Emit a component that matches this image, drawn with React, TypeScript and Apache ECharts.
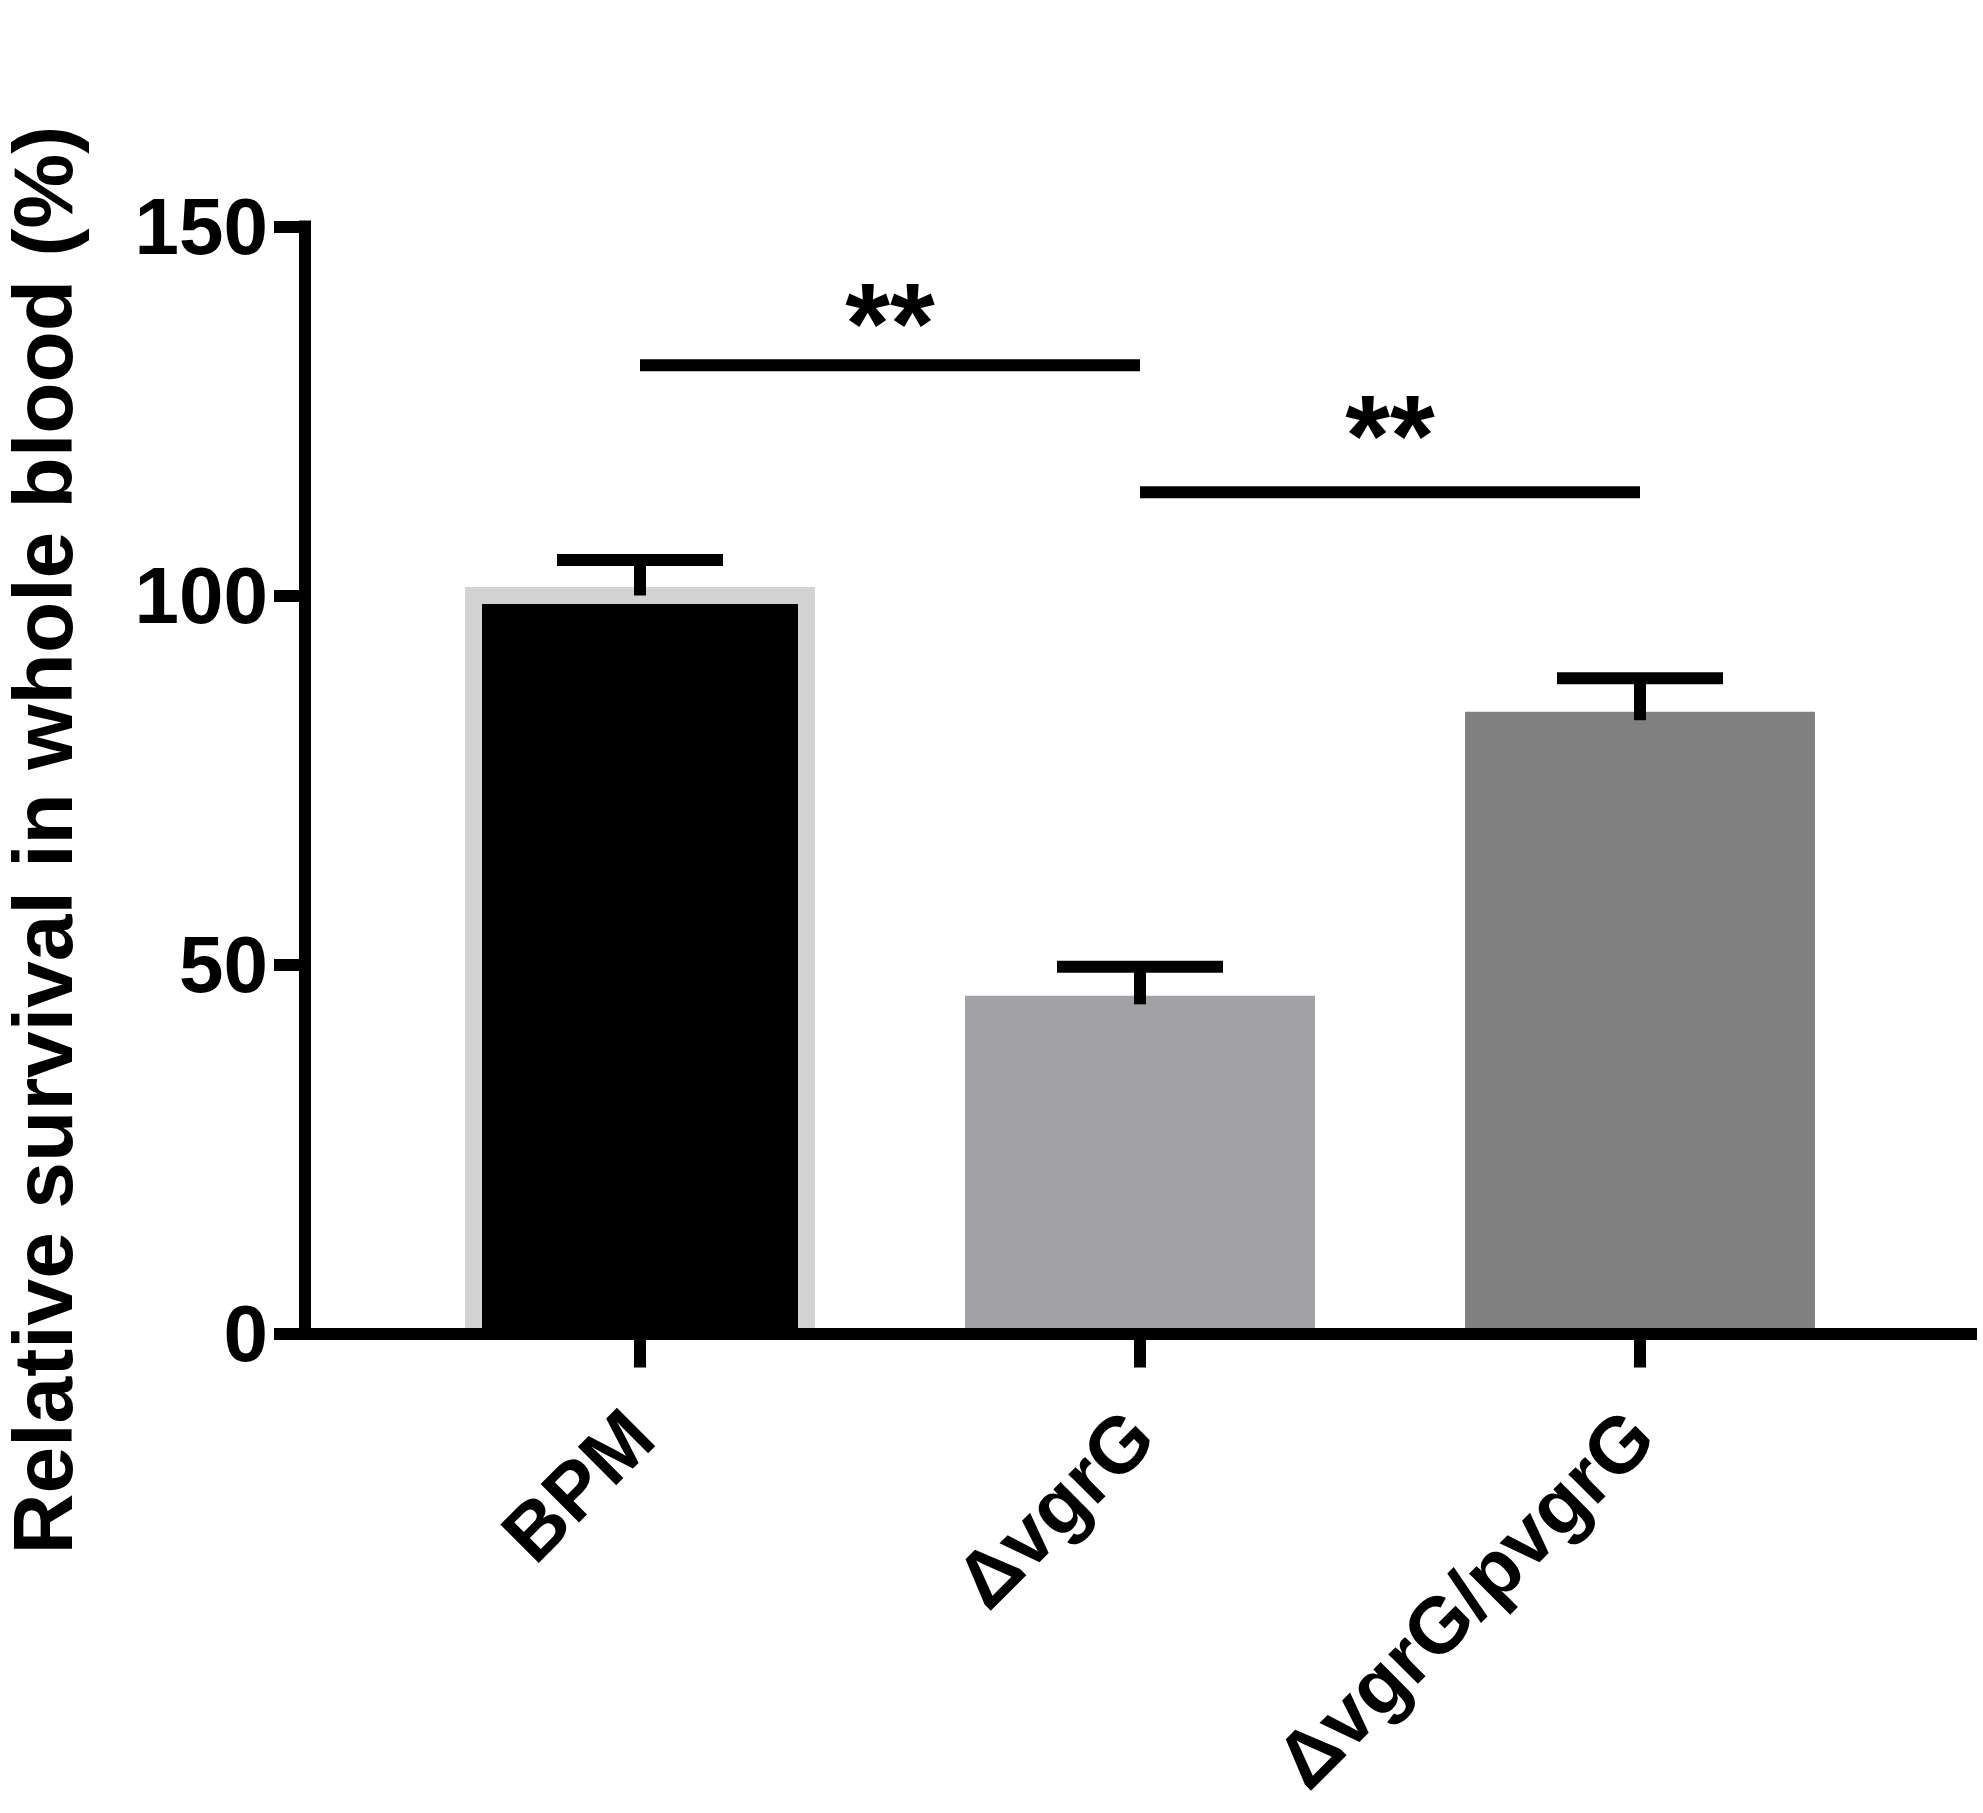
import React, { useEffect, useRef } from "react";
import * as echarts from "echarts";

// ---- data ----
const categories = ["BPM", "ΔvgrG", "ΔvgrG/pvgrG"];
const means = [100, 44.6, 83.1];
const sems = [4.8, 5.1, 5.7];
const barColors = ["#000000", "#a2a1a6", "#808080"];
const barBorderColors = ["#d3d3d3", "#a2a1a6", "#808080"];
const yMin = 0;
const yMax = 150;
const yInterval = 50;
// [fromIndex, toIndex, lineValue, starValue]
const comparisons = [
  [0, 1, 131.2, 139.1],
  [1, 2, 114.0, 123.9],
];
const sigLabels = ["**", "**"];
const yTitle = "Relative survival in whole blood (%)";

const FONT = "'Liberation Sans', Arial, Helvetica, sans-serif";
const BAR_W = 350;
const BORDER = 17;
const STAR_SIZE = 115;

export default function App() {
  const ref = useRef<HTMLDivElement>(null);
  useEffect(() => {
    document.body.style.margin = "0";
    const chart = echarts.init(ref.current!, null, { renderer: "svg" });
    const option: any = {
      animation: false,
      backgroundColor: "#ffffff",
      grid: [
        { left: 305, right: 12, top: 226.5, bottom: 479.5, containLabel: false, outerBoundsMode: "none" },
        { left: 390, right: 93, top: 226.5, bottom: 479.5, containLabel: false, outerBoundsMode: "none" },
      ],
      xAxis: [
        {
          type: "value",
          gridIndex: 0,
          min: 0,
          max: 1,
          axisLine: { show: true, onZero: false, lineStyle: { color: "#000", width: 12, cap: "square" } },
          axisTick: { show: false },
          axisLabel: { show: false },
          splitLine: { show: false },
          z: 5,
        },
        {
          type: "category",
          gridIndex: 1,
          data: categories,
          axisLine: { show: false, onZero: false },
          axisTick: { show: true, alignWithLabel: true, length: 34, lineStyle: { color: "#000", width: 12 } },
          axisLabel: {
            rotate: 45,
            margin: 90,
            fontSize: 79,
            fontWeight: "bold",
            fontFamily: FONT,
            color: "#000",
            interval: 0,
          },
          splitLine: { show: false },
        },
      ],
      yAxis: [
        {
          type: "value",
          gridIndex: 0,
          min: yMin,
          max: yMax,
          interval: yInterval,
          name: yTitle,
          nameLocation: "middle",
          nameGap: 227,
          nameTextStyle: {
            fontSize: 84,
            lineHeight: 70,
            fontWeight: "bold",
            fontFamily: FONT,
            color: "#000",
            padding: [0, 120, 0, 0],
          },
          axisLine: { show: true, onZero: false, lineStyle: { color: "#000", width: 12, cap: "square" } },
          axisTick: { show: true, length: 31, lineStyle: { color: "#000", width: 12 } },
          axisLabel: { margin: 37, fontSize: 80, fontWeight: "bold", fontFamily: FONT, color: "#000" },
          splitLine: { show: false },
          z: 5,
        },
        {
          type: "value",
          gridIndex: 1,
          min: yMin,
          max: yMax,
          interval: yInterval,
          show: false,
          splitLine: { show: false },
        },
      ],
      series: [
        {
          type: "custom",
          name: "mean",
          xAxisIndex: 1,
          yAxisIndex: 1,
          z: 2,
          encode: { x: 0, y: 1 },
          data: means.map((m, i) => [i, m]),
          renderItem: (params: any, api: any) => {
            const i = params.dataIndex;
            const top = api.coord([api.value(0), api.value(1)]);
            const base = api.coord([api.value(0), 0]);
            const half = BAR_W / 2;
            return {
              type: "group",
              children: [
                {
                  type: "rect",
                  shape: {
                    x: top[0] - half,
                    y: top[1] - BORDER / 2,
                    width: BAR_W,
                    height: base[1] - top[1] + BORDER / 2,
                  },
                  style: { fill: barBorderColors[i] },
                },
                {
                  type: "rect",
                  shape: {
                    x: top[0] - half + BORDER,
                    y: top[1] + BORDER / 2,
                    width: BAR_W - 2 * BORDER,
                    height: Math.max(0, base[1] - top[1] - BORDER / 2),
                  },
                  style: { fill: barColors[i] },
                },
              ],
            };
          },
        },
        {
          type: "custom",
          name: "sem",
          xAxisIndex: 1,
          yAxisIndex: 1,
          z: 3,
          encode: { x: 0, y: 1 },
          data: means.map((m, i) => [i, m, sems[i]]),
          renderItem: (params: any, api: any) => {
            const x = api.value(0);
            const m = api.value(1);
            const e = api.value(2);
            const base = api.coord([x, m]);
            const top = api.coord([x, m + e]);
            return {
              type: "group",
              children: [
                {
                  type: "line",
                  shape: { x1: base[0], y1: base[1], x2: top[0], y2: top[1] },
                  style: { stroke: "#000", lineWidth: 12 },
                },
                {
                  type: "line",
                  shape: { x1: top[0] - 83, y1: top[1], x2: top[0] + 83, y2: top[1] },
                  style: { stroke: "#000", lineWidth: 12 },
                },
              ],
            };
          },
        },
        {
          type: "custom",
          name: "significance",
          xAxisIndex: 1,
          yAxisIndex: 1,
          z: 3,
          encode: { x: 0, y: 2 },
          data: comparisons.map((c) => c.slice()),
          renderItem: (params: any, api: any) => {
            const a = api.value(0);
            const b = api.value(1);
            const ly = api.value(2);
            const sy = api.value(3);
            const p1 = api.coord([a, ly]);
            const p2 = api.coord([b, ly]);
            const ps = api.coord([a, sy]);
            return {
              type: "group",
              children: [
                {
                  type: "line",
                  shape: { x1: p1[0], y1: p1[1], x2: p2[0], y2: p2[1] },
                  style: { stroke: "#000", lineWidth: 12 },
                },
                {
                  type: "text",
                  x: (p1[0] + p2[0]) / 2,
                  y: ps[1] + STAR_SIZE * 0.14,
                  style: {
                    text: sigLabels[params.dataIndex],
                    fontSize: STAR_SIZE,
                    fontWeight: "bold",
                    fontFamily: FONT,
                    fill: "#000",
                    align: "center",
                    verticalAlign: "middle",
                  },
                },
              ],
            };
          },
        },
      ],
    };
    chart.setOption(option);
    return () => chart.dispose();
  }, []);
  return <div ref={ref} style={{ width: 1983, height: 1813 }} />;
}
